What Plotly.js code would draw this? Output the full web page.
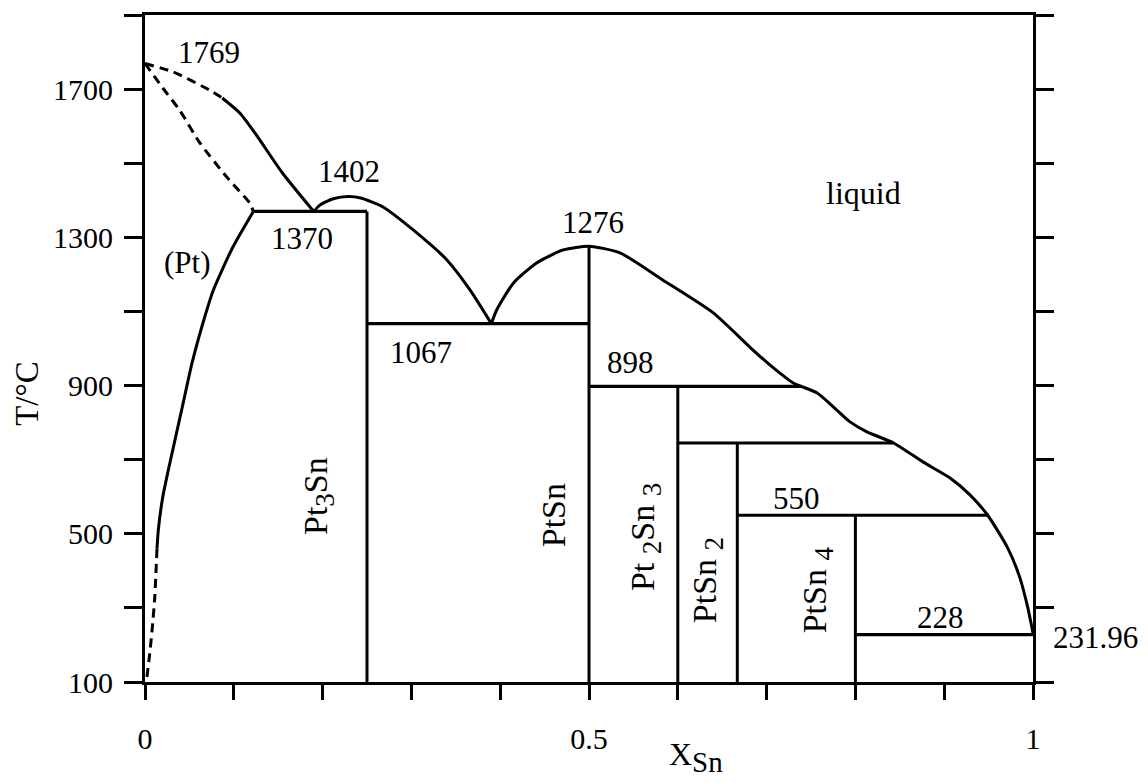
<!DOCTYPE html>
<html>
<head>
<meta charset="utf-8">
<script src="https://cdn.plot.ly/plotly-3.0.1.min.js"></script>
<style>html,body{margin:0;padding:0;background:#fff;}#chart{width:1148px;height:783px;}</style>
</head>
<body>
<div id="chart"></div>
<script>
// ---- Data (x = mole fraction Sn, T in °C) ----
// Pt-rich liquidus (dashed part, then solid part down to the 1370 eutectic)
const liqPtDashX = [0, 0.032, 0.073, 0.087];
const liqPtDashT = [1769, 1746, 1697, 1676];
const liqPtX = [0.087, 0.107, 0.124, 0.155, 0.19];
const liqPtT = [1676, 1635, 1581, 1473, 1370];
// (Pt) solidus, dashed
const solPtX = [0, 0.02, 0.039, 0.062, 0.092, 0.118, 0.122];
const solPtT = [1769, 1703, 1643, 1554, 1463, 1392, 1370];
// (Pt) solvus, solid then dashed
const solvX = [0.122, 0.099, 0.077, 0.066, 0.053, 0.042, 0.028, 0.02, 0.015, 0.0135];
const solvT = [1370, 1274, 1158, 1075, 961, 842, 691, 599, 510, 460];
const solvDashX = [0.0135, 0.011, 0.008, 0.005, 0.002];
const solvDashT = [460, 329, 240, 170, 110];
// Pt3Sn liquidus (congruent maximum 1402)
const liqPt3SnX = [0.19, 0.197, 0.212, 0.229, 0.243, 0.268, 0.302, 0.34, 0.366, 0.39];
const liqPt3SnT = [1370, 1387, 1404, 1410, 1406, 1382, 1320, 1239, 1158, 1067];
// PtSn liquidus to the Sn side
const liqSnX = [0.39, 0.396, 0.415, 0.441, 0.471, 0.5, 0.535, 0.583, 0.64, 0.681, 0.704, 0.73, 0.757, 0.779, 0.794, 0.813, 0.843, 0.876, 0.907, 0.929, 0.949, 0.971, 0.985, 0.994, 1.0];
const liqSnT = [1067, 1104, 1177, 1231, 1266, 1276, 1258, 1185, 1096, 1004, 955, 907, 880, 834, 802, 775, 745, 694, 650, 605, 550, 464, 383, 302, 231.96];
// Compounds (vertical lines): composition and top temperature
const SUB = (s) => "<sub><span style='font-size:27px'>" + s + "</span></sub>";
const compNames = ["Pt" + SUB("3") + "Sn", "PtSn", "Pt " + SUB("2") + "Sn " + SUB("3"), "PtSn " + SUB("2"), "PtSn " + SUB("4")];
const compX = [0.25, 0.5, 0.6, 0.667, 0.8];
const compTop = [1370, 1276, 898, 745, 550];
// Invariant (horizontal) lines
const invT = [1370, 1067, 898, 745, 550, 228];
const invX0 = [0.122, 0.25, 0.5, 0.6, 0.667, 0.8];
const invX1 = [0.25, 0.5, 0.739, 0.843, 0.949, 1.0];
// Tick labels
const xTickVals = [0, 0.5, 1];
const xTickText = ["0", "0.5", "1"];
const yTickVals = [100, 500, 900, 1300, 1700];
const yTickText = ["100", "500", "900", "1300", "1700"];
// Temperature labels
const tempLabels = ["1769", "1402", "1370", "1276", "1067", "898", "550", "228", "231.96"];

const FONT = "'Liberation Serif', 'Times New Roman', Times, serif";
const lineStyle = (dash, w) => ({color: "#000", width: w || 3, dash: dash || "solid", shape: "spline", smoothing: 0.6});
function tr(x, y, dash, w) {
  return {x: x, y: y, mode: "lines", type: "scatter", line: lineStyle(dash, w), hoverinfo: "skip", showlegend: false};
}
function seg(x, y, w) {
  return {x: x, y: y, mode: "lines", type: "scatter", line: {color: "#000", width: w || 3}, hoverinfo: "skip", showlegend: false};
}
const traces = [
  tr(liqPtDashX, liqPtDashT, "9px,6px"),
  tr(liqPtX, liqPtT),
  tr(solPtX, solPtT, "9px,6px"),
  tr(solvX, solvT),
  tr(solvDashX, solvDashT, "9px,6px"),
  tr(liqPt3SnX, liqPt3SnT),
  tr(liqSnX, liqSnT),
];
// compound verticals
compX.forEach((cx, i) => traces.push(seg([cx, cx], [100, compTop[i]], 3)));
// invariant horizontals
invT.forEach((t, i) => traces.push(seg([invX0[i], invX1[i]], [t, t], 3.2)));

function ann(text, x, y, angle, size, xref) {
  return {text: text, x: x, y: y, xref: xref || "x", yref: "y", showarrow: false, xanchor: "center", yanchor: "middle",
          textangle: angle || 0, font: {family: FONT, size: size || 31, color: "#000"}};
}
const annotations = [
  ann(tempLabels[0], 0.072, 1800),
  ann(tempLabels[1], 0.23, 1479),
  ann(tempLabels[2], 0.177, 1298),
  ann(tempLabels[3], 0.505, 1341),
  ann(tempLabels[4], 0.311, 990),
  ann(tempLabels[5], 0.547, 961),
  ann(tempLabels[6], 0.734, 596),
  ann(tempLabels[7], 0.896, 273),
  ann(tempLabels[8], 1.07, 221, 0, 31, "paper"),
  ann("(Pt)", 0.048, 1233),
  ann("liquid", 0.809, 1419, 0, 32),
  ann(compNames[0], 0.196, 602, -90, 34),
  ann(compNames[1], 0.461, 551, -90, 34),
  ann(compNames[2], 0.563, 491, -90, 34),
  ann(compNames[3], 0.633, 375, -90, 34),
  ann(compNames[4], 0.757, 348, -90, 34),
  // axis titles
  ann("T/°C", -0.133, 880, -90, 33, "paper"),
  {text: "X<sub><span style='font-size:29px'>Sn</span></sub>", x: 0.62, y: -0.112, xref: "x", yref: "paper", showarrow: false,
   xanchor: "center", yanchor: "middle", font: {family: FONT, size: 32, color: "#000"}},
];

const tickFont = {family: FONT, size: 30, color: "#000"};
const layout = {
  width: 1148, height: 783, autosize: false,
  margin: {l: 145, r: 115, t: 15, b: 101, pad: 0},
  paper_bgcolor: "#fff", plot_bgcolor: "#fff",
  font: {family: FONT, size: 30, color: "#000"},
  xaxis: {
    range: [0, 1], showgrid: false, zeroline: false, automargin: false,
    showline: true, linewidth: 3, linecolor: "#000", mirror: true,
    ticks: "outside", ticklen: 15, tickwidth: 3, tickcolor: "#000",
    tickmode: "array", tickvals: xTickVals, ticktext: xTickText,
    minor: {tick0: 0, dtick: 0.1, ticks: "outside", ticklen: 15, tickwidth: 3, tickcolor: "#000", showgrid: false},
    tickfont: tickFont, ticklabelstandoff: 13
  },
  yaxis: {
    range: [100, 1900], showgrid: false, zeroline: false, automargin: false,
    showline: true, linewidth: 3, linecolor: "#000", mirror: "ticks",
    ticks: "outside", ticklen: 18, tickwidth: 3, tickcolor: "#000",
    tickmode: "array", tickvals: yTickVals, ticktext: yTickText,
    minor: {tick0: 100, dtick: 200, ticks: "outside", ticklen: 18, tickwidth: 3, tickcolor: "#000", showgrid: false},
    tickfont: tickFont, ticklabelstandoff: 5
  },
  annotations: annotations
};
Plotly.newPlot("chart", traces, layout, {staticPlot: true, displayModeBar: false});
</script>
</body>
</html>
